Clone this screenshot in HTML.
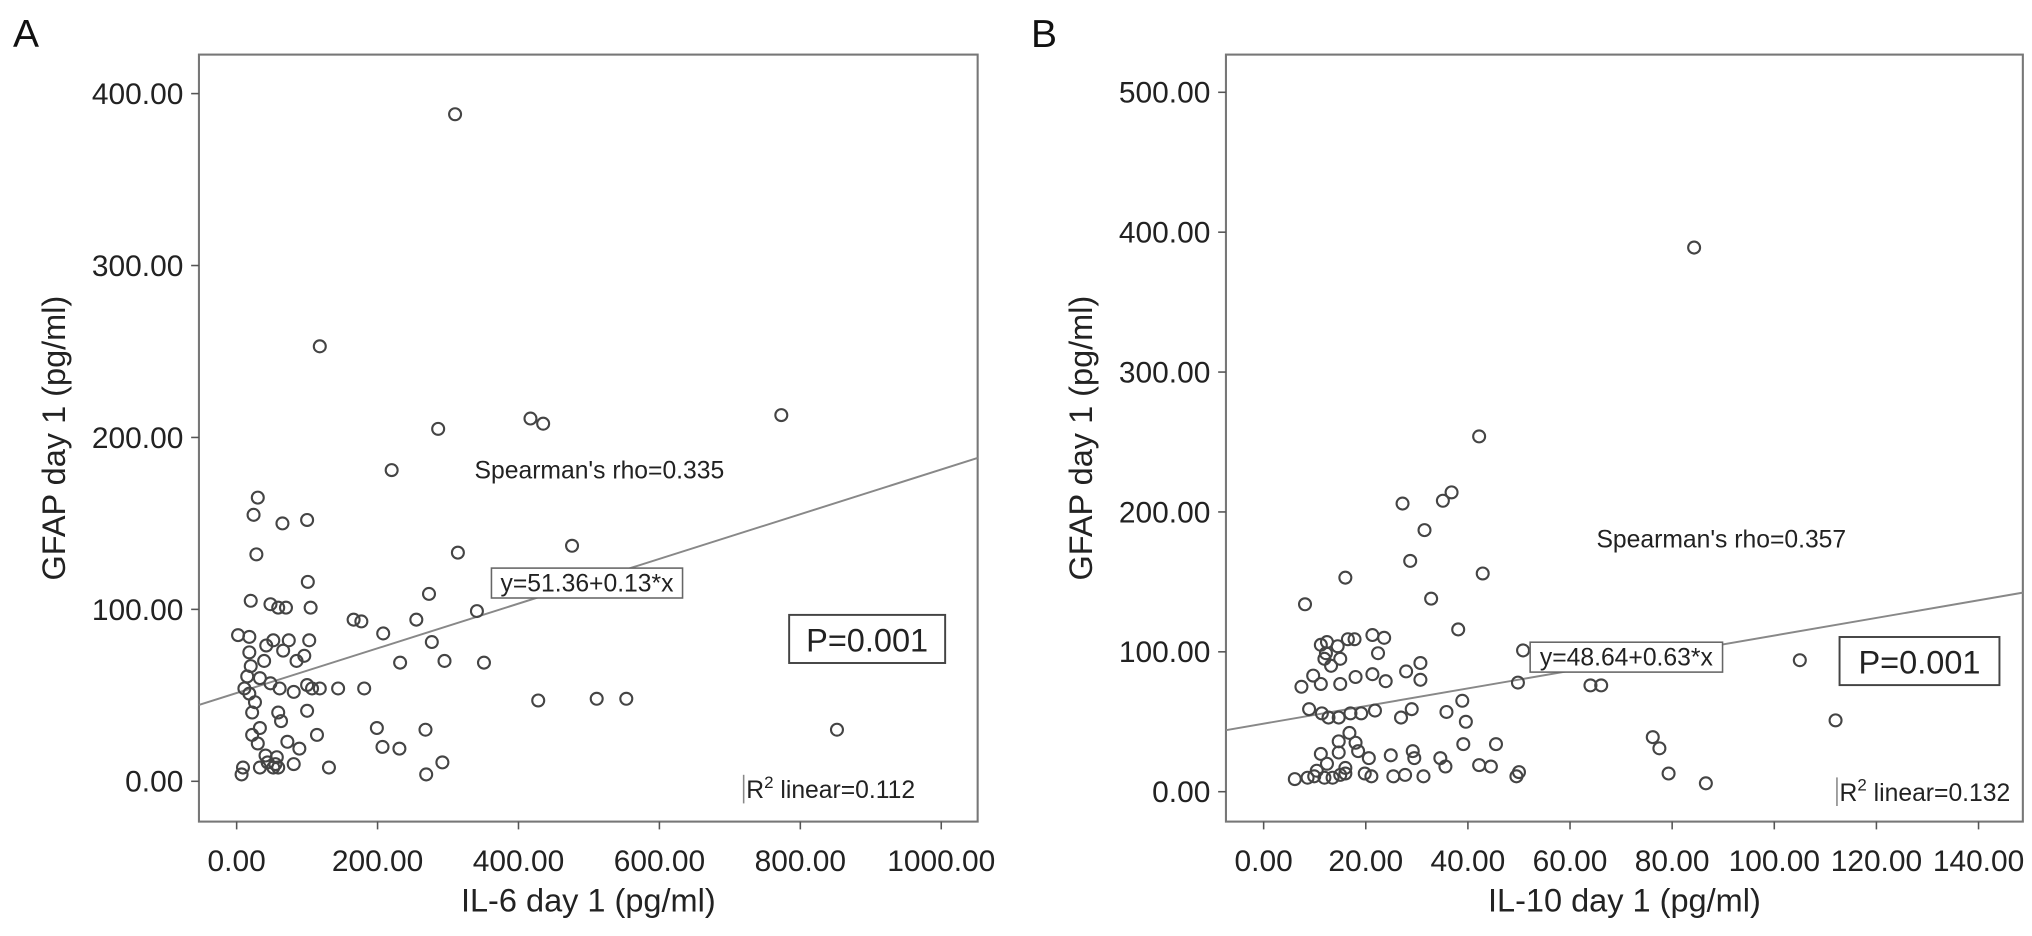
<!DOCTYPE html>
<html><head><meta charset="utf-8"><style>
html,body{margin:0;padding:0;background:#fff;}
svg{display:block;font-family:"Liberation Sans",Arial,sans-serif;}
</style></head><body>
<svg id="chart" width="2032" height="936" viewBox="0 0 1563 720"></svg>
<script>
// Panel A data
const aXVals=[310,118,773,417,435,286,220,30,24,100,65,314,476,28,101,273,20,48,105,59,70,341,2,18,52,74,103,277,208,166,177,255,18,42,66,96,39,85,144,181,232,295,351,428,511,553,20,15,33,48,61,81,100,107,118,11,18,26,22,59,100,63,33,22,30,114,72,89,41,44,57,55,33,81,9,131,199,207,231,268,292,269,852,7,52,59];
const aYVals=[388,253,213,211,208,205,181,165,155,152,150,133,137,132,116,109,105,103,101,101,101,99,85,84,82,82,82,81,86,94,93,94,75,79,76,73,70,70,54,54,69,70,69,47,48,48,67,61,60,57,54,52,56,54,54,54,51,46,40,40,41,35,31,27,22,27,23,19,15,11,14,10,8,10,8,8,31,20,19,30,11,4,30,4,8,8];
const aXTicks=[0,200,400,600,800,1000];
const aYTicks=[0,100,200,300,400];
const aFit=[51.36,0.13];
// Panel B data
const bXVals=[84.3,42.2,36.8,35.1,27.2,31.5,28.7,32.8,42.9,8.1,16.0,38.1,23.6,30.7,27.9,21.3,11.2,12.4,14.5,12.2,16.5,17.8,11.9,13.2,15.0,22.4,9.7,7.4,11.2,15.0,18.0,21.3,23.9,30.7,38.9,49.8,50.8,64.0,66.1,105,112,8.9,11.4,12.7,14.7,17.0,19.1,21.8,26.9,29.0,35.8,39.6,16.8,14.7,18.0,11.2,12.4,14.7,18.5,20.6,24.9,29.2,29.5,39.1,45.5,44.5,42.2,49.5,50,76.2,77.5,79.3,86.6,6.1,8.6,9.9,11.9,13.5,15.0,16.0,19.8,21.1,25.4,27.7,31.3,35.6,34.6,16.0,10.4];
const bYVals=[389,254,214,208,206,187,165,138,156,134,153,116,110,92,86,112,105,107,104,99,109,109,95,90,95,99,83,75,77,77,82,84,79,80,65,78,101,76,76,94,51,59,56,53,53,56,56,58,53,59,57,50,42,36,35,27,20,28,29,24,26,29,24,34,34,18,19,11,14,39,31,13,6,9,10,11,10,10,12,13,13,11,11,12,11,18,24,17,15];
const bXTicks=[0,20,40,60,80,100,120,140];
const bYTicks=[0,100,200,300,400,500];
const bFit=[48.64,0.63];

const NS="http://www.w3.org/2000/svg";
const svg=document.getElementById('chart');
function mk(tag,attrs,parent,text){const e=document.createElementNS(NS,tag);for(const k in attrs)e.setAttribute(k,attrs[k]);if(text!==undefined)e.textContent=text;(parent||svg).appendChild(e);return e;}

function panel(cfg){
  const g=mk('g',{});
  
  
  const sx=v=>cfg.x0px+v*cfg.xs, sy=v=>cfg.y0px-v*cfg.ys;
  const L=cfg.frame[0],T=cfg.frame[1],R=cfg.frame[2],B=cfg.frame[3];
  const fr=mk('rect',{x:L,y:T,width:R-L,height:B-T,fill:'none',stroke:'#777','stroke-width':1.6},g);
  
  
  cfg.yTicks.forEach(t=>{
    const y=sy(t);
    const tk=mk('line',{x1:L-6,x2:L,y1:y,y2:y,stroke:'#555','stroke-width':1.2},g);
    
    
    const lb=mk('text',{x:L-12,y:y+8,'text-anchor':'end','font-size':23,fill:'#222'},g,t.toFixed(2));
    
    
  });
  cfg.xTicks.forEach(t=>{
    const x=sx(t);
    const tk=mk('line',{x1:x,x2:x,y1:B,y2:B+6,stroke:'#555','stroke-width':1.2},g);
    
    
    const lb=mk('text',{x:x,y:B+38,'text-anchor':'middle','font-size':23,fill:'#222'},g,t.toFixed(2));
    
    
  });
  const xt=mk('text',{x:(L+R)/2,y:701,'text-anchor':'middle','font-size':25,fill:'#222'},g,cfg.xTitle);
  
  
  const yt=mk('text',{x:0,y:0,'text-anchor':'middle','font-size':25,fill:'#222',transform:`translate(${cfg.yTitleX},${(T+B)/2}) rotate(-90)`},g,'GFAP day 1 (pg/ml)');
  
  
  const vl=(L-cfg.x0px)/cfg.xs, vr=(R-cfg.x0px)/cfg.xs;
  const ln=mk('line',{x1:L,y1:sy(cfg.fit[0]+cfg.fit[1]*vl),x2:R,y2:sy(cfg.fit[0]+cfg.fit[1]*vr),stroke:'#888','stroke-width':1.5},g);
  
  
  cfg.xv.forEach((v,i)=>{
    const c=mk('circle',{cx:sx(v),cy:sy(cfg.yv[i]),r:4.6,fill:'none',stroke:'#444','stroke-width':1.6},g);
    
    
  });
  const sp=mk('text',{x:cfg.sp[0],y:cfg.sp[1],'font-size':19,fill:'#222'},g,cfg.spText);
  
  
  const eb=mk('rect',{x:cfg.eq[0],y:cfg.eq[1],width:cfg.eq[2],height:23,fill:'#fff',stroke:'#666','stroke-width':1.2},g);
  
  
  const et=mk('text',{x:cfg.eq[0]+cfg.eq[2]/2,y:cfg.eq[1]+18,'text-anchor':'middle','font-size':19,fill:'#222'},g,cfg.eqText);
  
  
  const pb=mk('rect',{x:cfg.p[0],y:cfg.p[1],width:cfg.p[2],height:37,fill:'#fff',stroke:'#444','stroke-width':1.5},g);
  
  
  const pt=mk('text',{x:cfg.p[0]+cfg.p[2]/2,y:cfg.p[1]+28,'text-anchor':'middle','font-size':25,fill:'#222'},g,'P=0.001');
  
  
  const rb=mk('line',{x1:cfg.r2[0],x2:cfg.r2[0],y1:cfg.r2[1]-18,y2:cfg.r2[1]+4,stroke:'#888','stroke-width':1.2},g);
  
  
  const rt=mk('text',{x:cfg.r2[0]+2,y:cfg.r2[1],'font-size':19,fill:'#222'},g);
  
  
  mk('tspan',{},rt,'R');
  mk('tspan',{dy:-8,'font-size':13},rt,'2');
  mk('tspan',{dy:8},rt,' linear='+cfg.r2Text);
  const pl=mk('text',{x:cfg.letter[0],y:cfg.letter[1],'font-size':30,fill:'#111'},g,cfg.letterText);
  
  
}

panel({name:'panel-a',frame:[153,42,752,632],x0px:182,xs:0.542,y0px:601,ys:1.3225,
  xTicks:aXTicks,yTicks:aYTicks,xv:aXVals,yv:aYVals,fit:aFit,
  xTitle:'IL-6 day 1 (pg/ml)',yTitleX:50,sp:[365,368],spText:"Spearman's rho=0.335",
  eq:[378,437,147],eqText:'y=51.36+0.13*x',p:[607,473,120],r2:[572,614],r2Text:'0.112',
  letter:[10,36],letterText:'A'});
panel({name:'panel-b',frame:[943,42,1556,632],x0px:972,xs:3.928,y0px:609,ys:1.076,
  xTicks:bXTicks,yTicks:bYTicks,xv:bXVals,yv:bYVals,fit:bFit,
  xTitle:'IL-10 day 1 (pg/ml)',yTitleX:840,sp:[1228,421],spText:"Spearman's rho=0.357",
  eq:[1177,494,148],eqText:'y=48.64+0.63*x',p:[1415,490,123],r2:[1413,616],r2Text:'0.132',
  letter:[793,36],letterText:'B'});
</script>
</body></html>
